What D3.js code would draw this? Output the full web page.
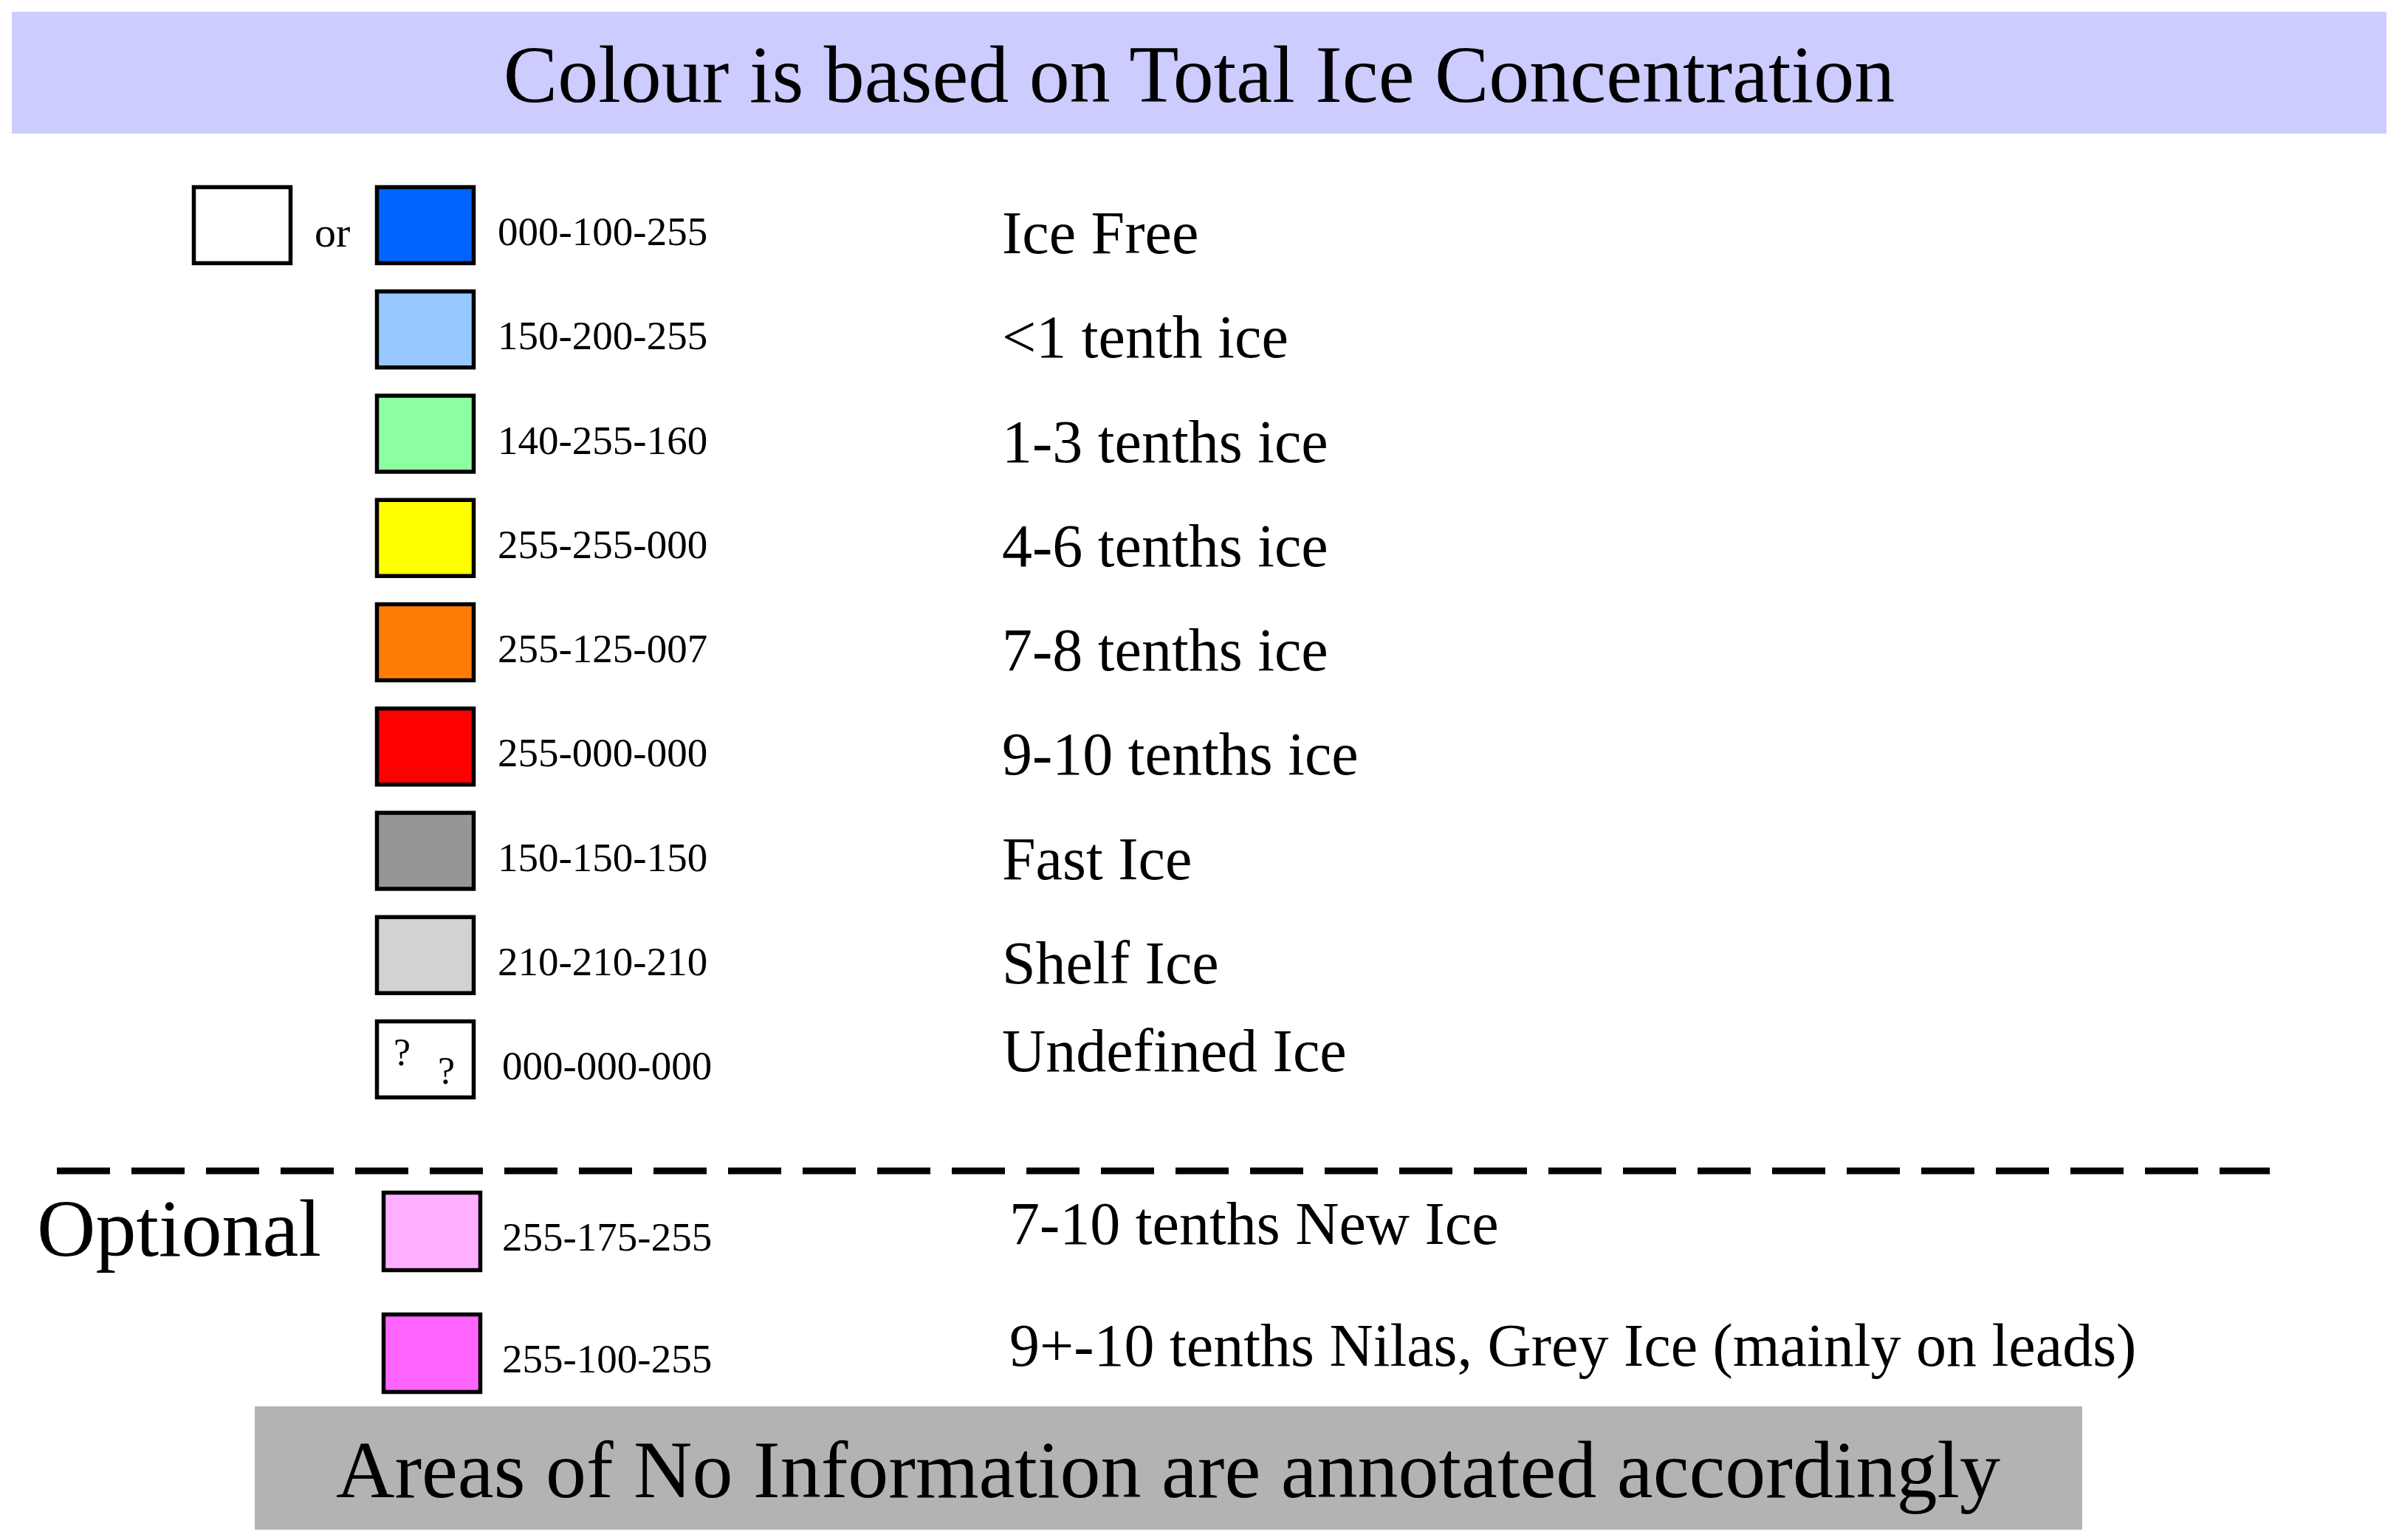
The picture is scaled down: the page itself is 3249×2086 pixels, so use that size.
<!DOCTYPE html>
<html>
<head>
<meta charset="utf-8">
<script src="https://cdn.jsdelivr.net/npm/d3@7"></script>
<style>
  body { margin: 0; background: #fff; }
  svg { display: block; }
  text { font-family: "Liberation Serif", "Times New Roman", serif; fill: #000; }
</style>
</head>
<body>
<svg id="legend"></svg>
<script>
// main legend rows (Total Ice Concentration)
var mainCodes = ["000-100-255", "150-200-255", "140-255-160", "255-255-000", "255-125-007",
                 "255-000-000", "150-150-150", "210-210-210", "000-000-000"];
var mainLabels = ["Ice Free", "<1 tenth ice", "1-3 tenths ice", "4-6 tenths ice", "7-8 tenths ice",
                  "9-10 tenths ice", "Fast Ice", "Shelf Ice", "Undefined Ice"];
var mainFills = ["rgb(0,100,255)", "rgb(150,200,255)", "rgb(140,255,160)", "rgb(255,255,0)", "rgb(255,125,7)",
                 "rgb(255,0,0)", "rgb(150,150,150)", "rgb(210,210,210)", "#ffffff"];

// optional rows
var optCodes = ["255-175-255", "255-100-255"];
var optLabels = ["7-10 tenths New Ice", "9+-10 tenths Nilas, Grey Ice (mainly on leads)"];
var optFills = ["rgb(255,175,255)", "rgb(255,100,255)"];

var titleText = "Colour is based on Total Ice Concentration";
var footText = "Areas of No Information are annotated accordingly";

var W = 3249, H = 2086;
var svg = d3.select("#legend").attr("width", W).attr("height", H);

// title band
svg.append("rect").attr("x", 16).attr("y", 16).attr("width", 3216).attr("height", 165)
    .attr("fill", "#ccccff");
svg.append("text").attr("x", 1624).attr("y", 138).attr("text-anchor", "middle")
    .attr("font-size", 110).text(titleText);

// row positions
var yMain = d3.scalePoint().domain(d3.range(mainCodes.length)).range([305, 1435]);
var yOpt = d3.scalePoint().domain(d3.range(optCodes.length)).range([1668, 1833]);

function drawRows(g, codes, labels, fills, y, opt) {
    var rows = g.selectAll("g.row")
        .data(codes.map(function (c, i) { return { code: c, label: labels[i], fill: fills[i], i: i }; }))
        .enter().append("g").attr("class", "row")
        .attr("transform", function (d) { return "translate(0," + y(d.i) + ")"; });

    rows.append("rect")
        .attr("x", opt.sx).attr("y", -opt.sh / 2)
        .attr("width", 131).attr("height", opt.sh)
        .attr("fill", function (d) { return d.fill; })
        .attr("stroke", "#000").attr("stroke-width", 5.5);

    rows.append("text")
        .attr("x", function (d) { return d.code === "000-000-000" ? opt.cx + 6 : opt.cx; })
        .attr("y", opt.cdy)
        .attr("font-size", 55)
        .text(function (d) { return d.code; });

    rows.append("text")
        .attr("x", opt.lx)
        .attr("y", function (d) { return d.label === "Undefined Ice" ? opt.ldy - 22 : opt.ldy; })
        .attr("font-size", 82)
        .text(function (d) { return d.label; });

    return rows;
}

var mainRows = drawRows(svg.append("g"), mainCodes, mainLabels, mainFills, yMain,
    { sx: 510.5, sh: 103, cx: 674, cdy: 27, lx: 1357, ldy: 38 });

// the "?" marks in the undefined swatch
var undef = mainRows.filter(function (d) { return d.code === "000-000-000"; });
undef.append("text").attr("x", 533).attr("y", 8).attr("font-size", 52).text("?");
undef.append("text").attr("x", 593).attr("y", 33).attr("font-size", 52).text("?");

// "white or blue" alternative for Ice Free
var first = mainRows.filter(function (d) { return d.i === 0; });
first.append("rect").attr("x", 262.5).attr("y", -51.5).attr("width", 131).attr("height", 103)
    .attr("fill", "#fff").attr("stroke", "#000").attr("stroke-width", 5.5);
first.append("text").attr("x", 426).attr("y", 29).attr("font-size", 58).text("or");

// dashed separator
svg.append("line").attr("x1", 77).attr("x2", 3074).attr("y1", 1586).attr("y2", 1586)
    .attr("stroke", "#000").attr("stroke-width", 9).attr("stroke-dasharray", "72,29");

svg.append("text").attr("x", 50).attr("y", 1701).attr("font-size", 110).text("Optional");

drawRows(svg.append("g"), optCodes, optLabels, optFills, yOpt,
    { sx: 519.5, sh: 105, cx: 680, cdy: 26, lx: 1367, ldy: 17 });

// footer band
svg.append("rect").attr("x", 345).attr("y", 1905).attr("width", 2475).attr("height", 167)
    .attr("fill", "#b3b3b3");
svg.append("text").attr("x", 1582).attr("y", 2028).attr("text-anchor", "middle")
    .attr("font-size", 110).text(footText);
</script>
</body>
</html>
